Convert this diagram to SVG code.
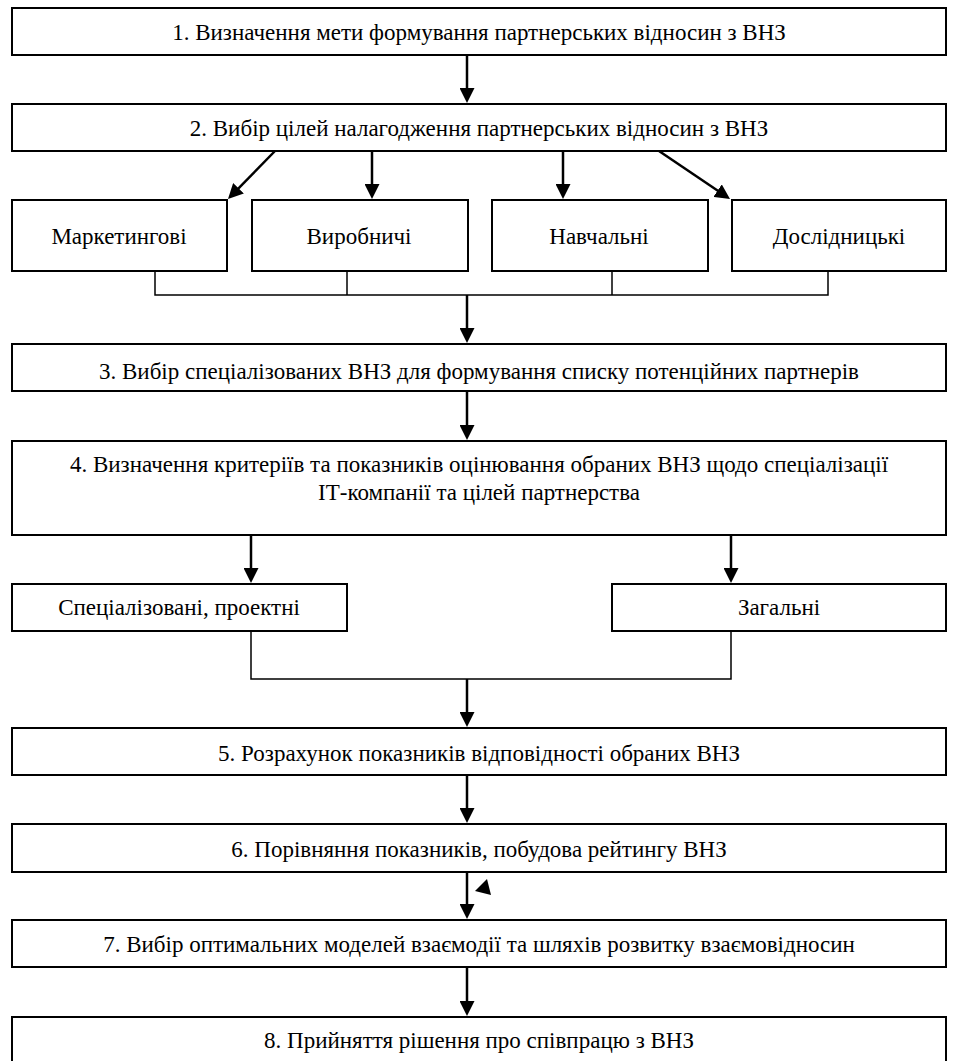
<svg xmlns="http://www.w3.org/2000/svg" width="959" height="1061" viewBox="0 0 959 1061">
<style>
.box{fill:#fff;stroke:#000;stroke-width:2}
.arr{fill:none;stroke:#000;stroke-width:2.5;marker-end:url(#ah)}
.br{fill:none;stroke:#000;stroke-width:1.5}
</style>
<defs>
<marker id="ah" viewBox="0 0 15 15" refX="7" refY="7.5" markerWidth="15" markerHeight="15" markerUnits="userSpaceOnUse" orient="auto">
<path d="M0,0 L15,7.5 L0,15 z" fill="#000"/>
</marker>
</defs>
<rect width="959" height="1061" fill="#fff"/>
<g id="connectors">
<line class="arr" x1="467" y1="55" x2="467" y2="95"/>
<line class="arr" x1="275" y1="151" x2="233.6" y2="193.3"/>
<line class="arr" x1="372" y1="151" x2="372" y2="191"/>
<line class="arr" x1="563" y1="151" x2="563" y2="191"/>
<line class="arr" x1="659" y1="151" x2="723.4" y2="194.5"/>
<polyline class="br" points="155,271 155,295 828,295 828,271"/>
<line class="br" x1="347" y1="271" x2="347" y2="295"/>
<line class="br" x1="612" y1="271" x2="612" y2="295"/>
<line class="arr" x1="467" y1="295" x2="467" y2="335"/>
<line class="arr" x1="467" y1="391" x2="467" y2="432"/>
<line class="arr" x1="251" y1="535" x2="251" y2="575"/>
<line class="arr" x1="731" y1="535" x2="731" y2="575"/>
<polyline class="br" points="251,631 251,679 731,679 731,631"/>
<line class="arr" x1="467" y1="679" x2="467" y2="719"/>
<line class="arr" x1="467" y1="775" x2="467" y2="815"/>
<line class="arr" x1="467" y1="872" x2="467" y2="911"/>
<polygon points="475,891 487,879 491,895" fill="#000"/>
<line class="arr" x1="467" y1="967" x2="467" y2="1008"/>
</g>
<g id="n1"><rect class="box" x="12" y="8" width="934" height="47"/><text font-family="Liberation Serif" font-size="23" text-anchor="middle" x="479" y="40">1. Визначення мети формування партнерських відносин з ВНЗ</text></g>
<g id="n2"><rect class="box" x="12" y="104" width="934" height="47"/><text font-family="Liberation Serif" font-size="23" text-anchor="middle" x="479" y="136">2. Вибір цілей налагодження партнерських відносин з ВНЗ</text></g>
<g id="n2a"><rect class="box" x="12" y="200" width="215" height="71"/><text font-family="Liberation Serif" font-size="23" text-anchor="middle" x="119" y="244">Маркетингові</text></g>
<g id="n2b"><rect class="box" x="252" y="200" width="216" height="71"/><text font-family="Liberation Serif" font-size="23" text-anchor="middle" x="359" y="244">Виробничі</text></g>
<g id="n2c"><rect class="box" x="492" y="200" width="216" height="71"/><text font-family="Liberation Serif" font-size="23" text-anchor="middle" x="599" y="244">Навчальні</text></g>
<g id="n2d"><rect class="box" x="732" y="200" width="214" height="71"/><text font-family="Liberation Serif" font-size="23" text-anchor="middle" x="839" y="244">Дослідницькі</text></g>
<g id="n3"><rect class="box" x="12" y="344" width="934" height="47"/><text font-family="Liberation Serif" font-size="23" text-anchor="middle" x="479" y="379">3. Вибір спеціалізованих ВНЗ для формування списку потенційних партнерів</text></g>
<g id="n4"><rect class="box" x="12" y="441" width="934" height="94"/><text font-family="Liberation Serif" font-size="23" text-anchor="middle" x="479" y="472">4. Визначення критеріїв та показників оцінювання обраних ВНЗ щодо спеціалізації</text><text font-family="Liberation Serif" font-size="23" text-anchor="middle" x="479" y="500">ІТ-компанії та цілей партнерства</text></g>
<g id="n4a"><rect class="box" x="12" y="584" width="335" height="47"/><text font-family="Liberation Serif" font-size="23" text-anchor="middle" x="179" y="615">Спеціалізовані, проектні</text></g>
<g id="n4b"><rect class="box" x="612" y="584" width="334" height="47"/><text font-family="Liberation Serif" font-size="23" text-anchor="middle" x="779" y="615">Загальні</text></g>
<g id="n5"><rect class="box" x="12" y="728" width="934" height="47"/><text font-family="Liberation Serif" font-size="23" text-anchor="middle" x="479" y="761">5. Розрахунок показників відповідності обраних ВНЗ</text></g>
<g id="n6"><rect class="box" x="12" y="824" width="934" height="48"/><text font-family="Liberation Serif" font-size="23" text-anchor="middle" x="479" y="857">6. Порівняння показників, побудова рейтингу ВНЗ</text></g>
<g id="n7"><rect class="box" x="12" y="920" width="934" height="47"/><text font-family="Liberation Serif" font-size="23" text-anchor="middle" x="479" y="952">7. Вибір оптимальних моделей взаємодії та шляхів розвитку взаємовідносин</text></g>
<g id="n8"><rect class="box" x="12" y="1017" width="934" height="60"/><text font-family="Liberation Serif" font-size="23" text-anchor="middle" x="479" y="1048">8. Прийняття рішення про співпрацю з ВНЗ</text></g>
</svg>
